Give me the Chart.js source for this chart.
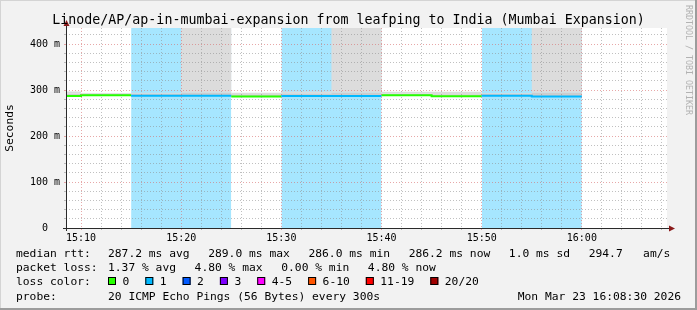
<!DOCTYPE html>
<html>
<head>
<meta charset="utf-8">
<script src="https://cdn.jsdelivr.net/npm/chart.js@4/dist/chart.umd.min.js"></script>
<style>
html,body{margin:0;padding:0;background:#f2f2f2;overflow:hidden}
canvas{display:block}
</style>
</head>
<body>
<canvas id="chart" width="697" height="310"></canvas>
<script>
// ---------------- data ----------------
const chartTitle = 'Linode/AP/ap-in-mumbai-expansion from leafping to India (Mumbai Expansion)';
const yAxisTitle = 'Seconds';
const slotStarts = ['15:05','15:10','15:15','15:20','15:25','15:30','15:35','15:40','15:45','15:50','15:55'];
const slotMinutes = 5;
const medianRtt = [287.0, 288.7, 287.6, 287.6, 286.0, 287.2, 287.2, 289.0, 286.3, 287.4, 286.2];
const lostPings = [0, 0, 1, 1, 0, 1, 1, 0, 0, 1, 1];
const smokeLow  = [286.2, 287.9, 286.8, 286.8, 285.2, 286.4, 286.4, 288.2, 285.5, 286.6, 285.4];
const smokeMid  = [292.0, 292.0, 292.0, 294.0, 291.0, 292.0, 294.0, 292.0, 291.0, 292.0, 294.0];
const smokeHigh = [297.0, 293.5, 294.0, 5000, 294.0, 297.0, 5000, 296.5, 296.5, 293.5, 5000];
const xRange = ['15:08:30', '16:08:30'];
const xMajorTicks = ['15:10','15:20','15:30','15:40','15:50','16:00'];
const yMajorTicks = [0, 100, 200, 300, 400];
const yTickLabels = ['0  ', '100 m', '200 m', '300 m', '400 m'];
const yMax = 435;
const lossLabels = ['0','1','2','3','4-5','6-10','11-19','20/20'];
const lossUpper  = [0, 1, 2, 3, 5, 10, 19, 20];
const lossColors = ['#26ff00','#00b8ff','#0059ff','#7e00ff','#ff00ff','#ff5500','#ff0000','#a00000'];
const lossBackground = '#a6e6ff';
const rttStats  = ['287.2 ms avg','289.0 ms max','286.0 ms min','286.2 ms now','1.0 ms sd','294.7   am/s'];
const lossStats = ['1.37 % avg','4.80 % max','0.00 % min','4.80 % now'];
const probeText = '20 ICMP Echo Pings (56 Bytes) every 300s';
const stampText = 'Mon Mar 23 16:08:30 2026';
const watermark = 'RRDTOOL / TOBI OETIKER';

// ---------------- helpers ----------------
const MONO = '"DejaVu Sans Mono", "Liberation Mono", monospace';
const MAJOR = 'rgba(215,110,110,0.6)';
const MINOR = 'rgba(140,140,140,0.55)';
const OFFSCALE = 5000;
const toMin = s => { const p = s.split(':').map(Number); return (p[0] - 15) * 60 + p[1] + (p[2] || 0) / 60; };
const minToLabel = v => { const h = 15 + Math.floor(v / 60), m = Math.round(v - (h - 15) * 60); return h + ':' + String(m).padStart(2, '0'); };
function stepPoints(values) {
  const pts = [];
  values.forEach((v, i) => { const x0 = toMin(slotStarts[i]); pts.push({x: x0, y: v}, {x: x0 + slotMinutes, y: v}); });
  return pts;
}
const lossBin = n => lossUpper.findIndex(u => n <= u);
const NONE = 'rgba(0,0,0,0)';

Chart.defaults.font.family = MONO;
Chart.defaults.font.size = 10;
Chart.defaults.color = '#000';

const rrdPlugin = {
  id: 'rrd',
  beforeDraw(chart) {
    const {ctx, chartArea: a} = chart;
    ctx.save();
    ctx.fillStyle = '#f2f2f2';
    ctx.fillRect(0, 0, chart.width, chart.height);
    ctx.fillStyle = '#ffffff';
    ctx.fillRect(a.left, a.top, a.right - a.left, a.bottom - a.top);
    ctx.restore();
  },
  afterDraw(chart) {
    const {ctx, chartArea: a} = chart;
    const W = chart.width, H = chart.height;
    ctx.save();
    // axes
    const x0 = a.left + 0.5, y0 = a.bottom + 0.5;
    ctx.strokeStyle = '#2a2a2a';
    ctx.lineWidth = 1;
    ctx.beginPath();
    ctx.moveTo(x0, a.bottom + 3); ctx.lineTo(x0, a.top - 4);
    ctx.moveTo(a.left - 3, y0); ctx.lineTo(a.right + 4, y0);
    ctx.stroke();
    ctx.fillStyle = '#8a1a1a';
    ctx.beginPath();
    ctx.moveTo(x0, a.top - 8); ctx.lineTo(x0 - 3, a.top - 2); ctx.lineTo(x0 + 3, a.top - 2); ctx.closePath(); ctx.fill();
    ctx.beginPath();
    ctx.moveTo(a.right + 8, y0); ctx.lineTo(a.right + 2, y0 - 3); ctx.lineTo(a.right + 2, y0 + 3); ctx.closePath(); ctx.fill();

    // title
    ctx.fillStyle = '#000';
    ctx.font = '13.3px ' + MONO;
    ctx.textAlign = 'center';
    ctx.textBaseline = 'alphabetic';
    ctx.fillText(chartTitle, W / 2, 24);

    // y axis title
    ctx.save();
    ctx.font = '11.3px ' + MONO;
    ctx.translate(10, 128);
    ctx.rotate(-Math.PI / 2);
    ctx.textAlign = 'center';
    ctx.textBaseline = 'middle';
    ctx.fillText(yAxisTitle, 0, 0);
    ctx.restore();

    // watermark
    ctx.save();
    ctx.font = '8.3px ' + MONO;
    ctx.fillStyle = '#b2b2b2';
    ctx.translate(688, 5);
    ctx.rotate(Math.PI / 2);
    ctx.textAlign = 'left';
    ctx.textBaseline = 'middle';
    ctx.fillText(watermark, 0, 0);
    ctx.restore();

    // legend
    ctx.font = '11.3px ' + MONO;
    ctx.textAlign = 'left';
    ctx.textBaseline = 'alphabetic';
    ctx.fillStyle = '#000';
    const col = 108, gap = 18.6;
    const row = (label, items, y) => {
      ctx.fillText(label, 16, y);
      let x = col;
      items.forEach(t => { ctx.fillText(t, x, y); x += ctx.measureText(t).width + gap; });
    };
    row('median rtt:', rttStats, 257);
    row('packet loss:', lossStats, 271);
    ctx.fillText('loss color:', 16, 285);
    let x = col;
    lossLabels.forEach((lab, i) => {
      ctx.fillStyle = lossColors[i];
      ctx.fillRect(x, 277, 8, 8);
      ctx.strokeStyle = '#000';
      ctx.lineWidth = 1;
      ctx.strokeRect(x + 0.5, 277.5, 7, 7);
      ctx.fillStyle = '#000';
      ctx.fillText(lab, x + 14.5, 285);
      x += 14.5 + ctx.measureText(lab).width + 16;
    });
    ctx.fillText('probe:', 16, 300);
    ctx.fillText(probeText, col, 300);
    ctx.textAlign = 'right';
    ctx.fillText(stampText, 681, 300);

    // frame
    ctx.fillStyle = '#d4d4d4';
    ctx.fillRect(0, 0, W, 1);
    ctx.fillRect(0, 0, 1, H);
    ctx.fillStyle = '#9c9c9c';
    ctx.fillRect(W - 2, 0, 2, H);
    ctx.fillRect(0, H - 2, W, 2);
    ctx.restore();
  }
};

const area = (label, data, fill, color, order) => ({
  label, data, fill, backgroundColor: color, borderColor: NONE, borderWidth: 0,
  pointRadius: 0, tension: 0, order, spanGaps: false
});

new Chart(document.getElementById('chart'), {
  type: 'line',
  data: {
    datasets: [
      area('loss', stepPoints(lostPings.map(n => n > 0 ? OFFSCALE : null)), 'origin', lossBackground, 4),
      area('smokeLow', stepPoints(smokeLow), false, NONE, 3),
      area('smokeMid', stepPoints(smokeMid), '-1', '#cdcdcd', 2),
      area('smokeHigh', stepPoints(smokeHigh), '-1', '#dcdcdc', 1),
      {
        label: 'median', data: stepPoints(medianRtt), fill: false, borderWidth: 2,
        pointRadius: 0, tension: 0, order: 0, borderCapStyle: 'butt',
        borderColor: lossColors[0],
        segment: {
          borderColor: c => {
            const i = c.p0DataIndex, s = Math.floor(i / 2);
            if (i % 2 === 0) return lossColors[lossBin(lostPings[s])];
            const a = lossBin(lostPings[s]), b = lossBin(lostPings[s + 1]);
            return a === b ? lossColors[a] : NONE;
          }
        }
      }
    ]
  },
  options: {
    responsive: false,
    animation: false,
    devicePixelRatio: 1,
    layout: { padding: { top: 28, right: 30, bottom: 0, left: 0 } },
    plugins: { legend: { display: false }, tooltip: { enabled: false }, title: { display: false } },
    scales: {
      x: {
        type: 'linear',
        min: toMin(xRange[0]),
        max: toMin(xRange[1]),
        afterBuildTicks: s => { const t = []; for (let v = Math.ceil(s.min / 2) * 2; v <= s.max; v += 2) t.push({value: v}); s.ticks = t; },
        ticks: {
          autoSkip: false, maxRotation: 0, minRotation: 0, padding: 2,
          font: { family: MONO, size: 10 }, color: '#000',
          callback: v => { const lab = minToLabel(v); return (v % 10 === 0 && xMajorTicks.includes(lab)) ? lab : ''; }
        },
        grid: { color: c => (c.tick && c.tick.value % 10 === 0) ? MAJOR : MINOR, z: 1, tickLength: 2 },
        border: { display: false, dash: [1, 2] },
        afterFit: s => { s.height = 82; }
      },
      y: {
        min: 0,
        max: yMax,
        afterBuildTicks: s => { const t = []; for (let v = 0; v <= s.max; v += 20) t.push({value: v}); s.ticks = t; },
        ticks: {
          autoSkip: false, padding: 4, font: { family: MONO, size: 10 }, color: '#000',
          callback: v => { const k = yMajorTicks.indexOf(v); return k >= 0 ? yTickLabels[k] : ''; }
        },
        grid: { color: c => (c.tick && c.tick.value % 100 === 0) ? MAJOR : MINOR, z: 1, tickLength: 2 },
        border: { display: false, dash: [1, 2] },
        afterFit: s => { s.width = 66; }
      }
    }
  },
  plugins: [rrdPlugin]
});
</script>
</body>
</html>
